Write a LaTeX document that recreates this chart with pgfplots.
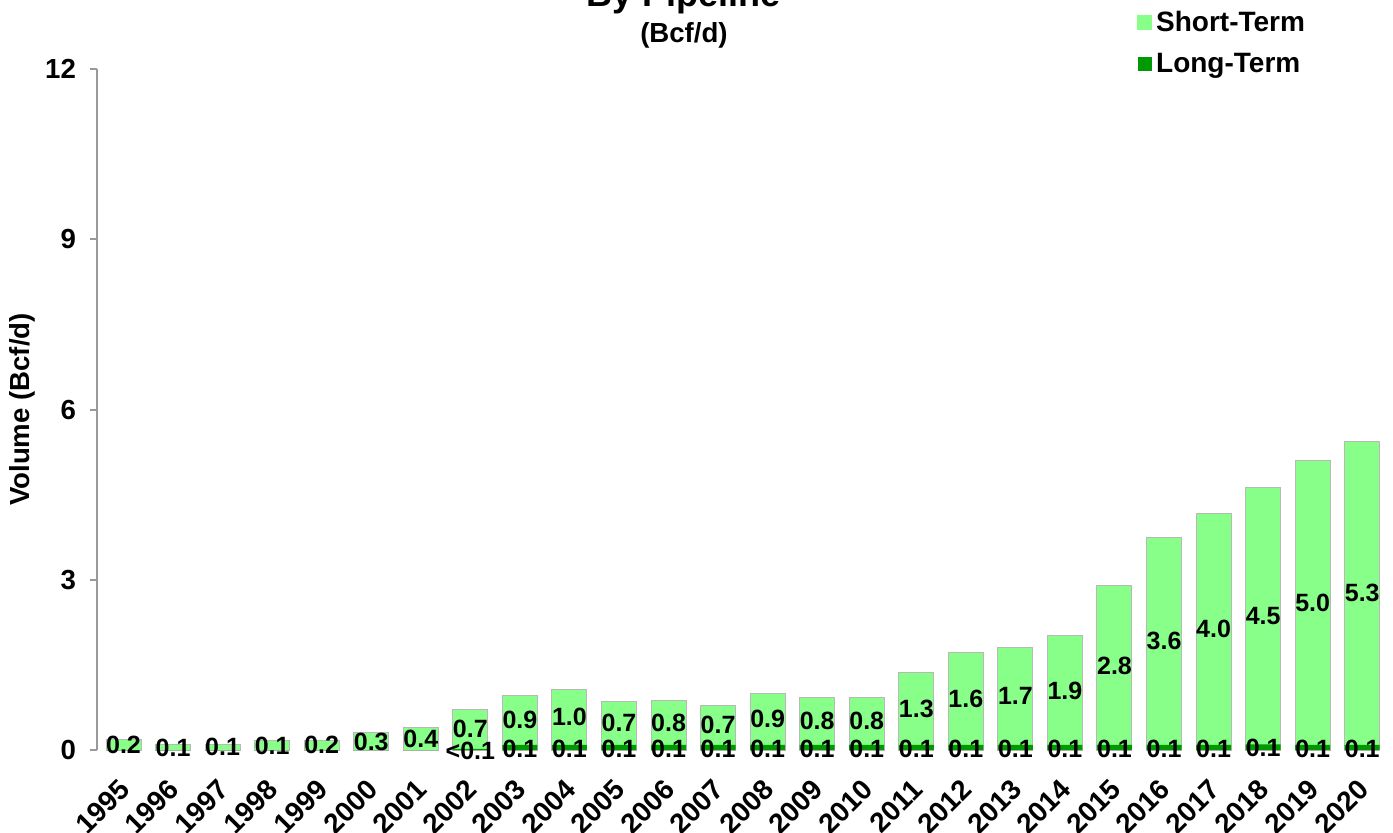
\documentclass[border=0pt]{standalone}
\usepackage{pgfplots}
\usepackage{pgfplotstable}
\usepackage{fontspec}
\setmainfont{Liberation Sans}
\pgfplotsset{compat=1.18}

\definecolor{shortterm}{HTML}{88FF88}
\definecolor{longterm}{HTML}{009900}
\definecolor{axisgray}{HTML}{999999}

% idx year st lt  (Bcf/d); labels as printed on the chart
\pgfplotstableread{
idx year st   lt   stlab ltlab
0  1995 0.18 0.00 0.2   {}
1  1996 0.09 0.00 0.1   {}
2  1997 0.10 0.00 0.1   {}
3  1998 0.16 0.00 0.1   {}
4  1999 0.17 0.00 0.2   {}
5  2000 0.30 0.00 0.3   {}
6  2001 0.39 0.00 0.4   {}
7  2002 0.70 0.02 0.7   {<0.1}
8  2003 0.87 0.09 0.9   0.1
9  2004 0.98 0.09 1.0   0.1
10 2005 0.76 0.09 0.7   0.1
11 2006 0.79 0.09 0.8   0.1
12 2007 0.70 0.09 0.7   0.1
13 2008 0.90 0.09 0.9   0.1
14 2009 0.84 0.09 0.8   0.1
15 2010 0.83 0.09 0.8   0.1
16 2011 1.27 0.09 1.3   0.1
17 2012 1.62 0.09 1.6   0.1
18 2013 1.71 0.09 1.7   0.1
19 2014 1.92 0.09 1.9   0.1
20 2015 2.80 0.09 2.8   0.1
21 2016 3.65 0.09 3.6   0.1
22 2017 4.08 0.09 4.0   0.1
23 2018 4.53 0.10 4.5   0.1
24 2019 5.01 0.09 5.0   0.1
25 2020 5.34 0.09 5.3   0.1
}\volumes

\begin{document}
\begin{tikzpicture}
\begin{axis}[
  scale only axis,
  width=645pt, height=340.5pt,
  xmin=-0.535, xmax=25.5,
  ymin=0, ymax=12,
  ytick={0,3,6,9,12},
  xtick={0,...,25},
  xticklabels={1995,1996,1997,1998,1999,2000,2001,2002,2003,2004,2005,2006,2007,2008,2009,2010,2011,2012,2013,2014,2015,2016,2017,2018,2019,2020},
  axis y line*=left,
  axis x line*=bottom,
  x axis line style={draw=none},
  xtick style={draw=none},
  y axis line style={axisgray, line width=1pt, -},
  ytick style={axisgray, line width=1pt},
  tick align=outside,
  major tick length=3.5pt,
  /pgf/number format/assume math mode=true,
  tick label style={font=\fontsize{13.8}{15}\selectfont\bfseries},
  y tick label style={xshift=-3.5pt},
  x tick label style={font=\fontsize{14}{16}\selectfont\bfseries, xshift=-3pt, yshift=-8.5pt, rotate=45, anchor=north east, inner sep=1pt},
  ylabel={Volume (Bcf/d)},
  ylabel style={font=\fontsize{13.8}{15}\selectfont\bfseries, at={(axis description cs:-0.058,0.5)}, anchor=center, rotate=0},
  bar width=17.5pt,
  legend style={at={(0.806,1.092)}, anchor=north west, draw=none, fill=none,
    font=\fontsize{14}{16}\selectfont\bfseries, row sep=5.5pt, inner sep=0pt,
    /tikz/every even column/.append style={column sep=2.5pt}},
  legend cell align=left,
  clip=false,
]
  \addplot[ybar, bar shift=0pt, fill=shortterm, draw=axisgray!70, line width=0.5pt,
    legend image code/.code={\fill[shortterm] (0pt,-3.5pt) rectangle (7pt,3.5pt);}]
    table[x=idx, y expr=\thisrow{st}+\thisrow{lt}] {\volumes};
  \addlegendentry{Short-Term}
  \addplot[ybar, bar shift=0pt, fill=longterm, draw=none,
    legend image code/.code={\fill[longterm] (0pt,-3.5pt) rectangle (7pt,3.5pt);}]
    table[x=idx, y=lt] {\volumes};
  \addlegendentry{Long-Term}

  % value labels, centred in each segment
  \addplot[draw=none, mark=none, forget plot, nodes near coords, point meta=explicit symbolic,
    every node near coord/.style={anchor=center, font=\fontsize{12.5}{14}\selectfont\bfseries, inner sep=0pt},
    nodes near coords align=center]
    table[x=idx, y expr=\thisrow{lt}+\thisrow{st}/2, meta=stlab] {\volumes};
  \addplot[draw=none, mark=none, forget plot, nodes near coords, point meta=explicit symbolic,
    every node near coord/.style={anchor=center, font=\fontsize{12.5}{14}\selectfont\bfseries, inner sep=0pt},
    nodes near coords align=center]
    table[x=idx, y expr=\thisrow{lt}/2-0.02, meta=ltlab] {\volumes};

  \node[font=\fontsize{13.8}{15}\selectfont\bfseries] at (rel axis cs:0.455,1.05) {(Bcf/d)};
  \node[overlay, anchor=base, font=\fontsize{18}{22}\selectfont\bfseries] at (rel axis cs:0.455,1.092) {By Pipeline};
\end{axis}
\pgfresetboundingbox
\path[use as bounding box] (-48.5pt,-41pt) rectangle (648pt,375pt);
\end{tikzpicture}
\end{document}
